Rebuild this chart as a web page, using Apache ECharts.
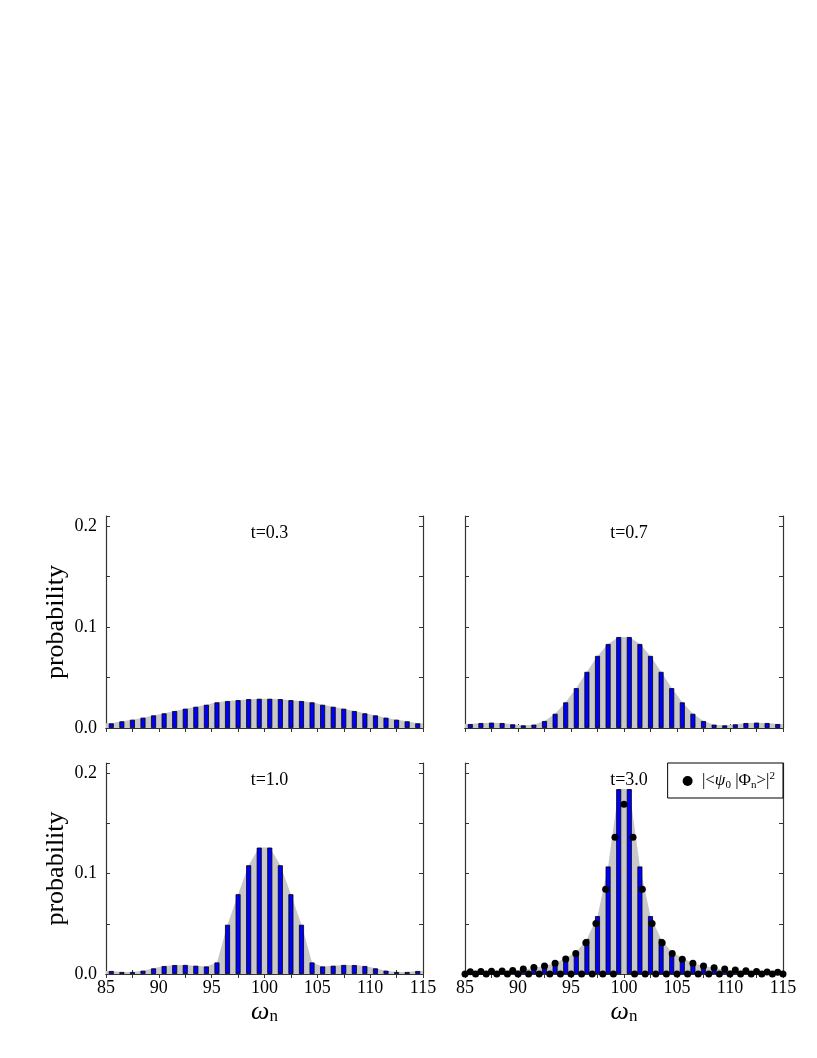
<!DOCTYPE html>
<html>
<head>
<meta charset="utf-8">
<script src="https://cdn.jsdelivr.net/npm/echarts@6/dist/echarts.min.js"></script>
<style>
  html, body { margin: 0; padding: 0; background: #fff; }
  #chart { width: 817px; height: 1058px; }
</style>
</head>
<body>
<div id="chart"></div>
<script>
// bar positions (omega_n) and probabilities for each time
const barX = [85.5, 86.5, 87.5, 88.5, 89.5, 90.5, 91.5, 92.5, 93.5, 94.5, 95.5, 96.5, 97.5, 98.5, 99.5,
  100.5, 101.5, 102.5, 103.5, 104.5, 105.5, 106.5, 107.5, 108.5, 109.5, 110.5, 111.5, 112.5, 113.5, 114.5]

const probT03 = [0.0046, 0.0066, 0.0082, 0.0102, 0.0125, 0.0145, 0.0168, 0.0191, 0.0210, 0.0230, 0.0254, 0.0267, 0.0276, 0.0286, 0.0289,
  0.0289, 0.0286, 0.0276, 0.0267, 0.0254, 0.0230, 0.0210, 0.0191, 0.0168, 0.0145, 0.0125, 0.0102, 0.0082, 0.0066, 0.0046]
const probT07 = [0.0039, 0.0049, 0.0053, 0.0049, 0.0036, 0.0026, 0.0033, 0.0069, 0.0141, 0.0254, 0.0395, 0.0556, 0.0714, 0.0832, 0.0901,
  0.0901, 0.0832, 0.0714, 0.0556, 0.0395, 0.0254, 0.0141, 0.0069, 0.0033, 0.0026, 0.0036, 0.0049, 0.0053, 0.0049, 0.0039]
const probT10 = [0.0030, 0.0020, 0.0020, 0.0033, 0.0056, 0.0079, 0.0089, 0.0090, 0.0082, 0.0075, 0.0115, 0.0490, 0.0794, 0.1082, 0.1258,
  0.1258, 0.1082, 0.0794, 0.0490, 0.0115, 0.0075, 0.0082, 0.0090, 0.0089, 0.0079, 0.0056, 0.0033, 0.0020, 0.0020, 0.0030]
const probT30 = [0.0017, 0.0020, 0.0025, 0.0030, 0.0035, 0.0045, 0.0060, 0.0079, 0.0106, 0.0160, 0.0218, 0.0348, 0.0576, 0.1070, 0.1840,
  0.1840, 0.1070, 0.0576, 0.0348, 0.0218, 0.0160, 0.0106, 0.0079, 0.0060, 0.0045, 0.0035, 0.0030, 0.0025, 0.0020, 0.0017]

// overlap |<psi0|Phi_n>|^2 at t=3.0 (dots): states with non-zero overlap
const dotX = [85.5, 86.5, 87.5, 88.5, 89.5, 90.5, 91.5, 92.5, 93.5, 94.5, 95.45, 96.4, 97.35, 98.27, 99.15,
  100,
  100.85, 101.73, 102.65, 103.6, 104.55, 105.5, 106.5, 107.5, 108.5, 109.5, 110.5, 111.5, 112.5, 113.5, 114.5]
const dotY = [0.0023, 0.0026, 0.0027, 0.0030, 0.0036, 0.0050, 0.0064, 0.0079, 0.0106, 0.0150, 0.0205, 0.0311, 0.0503, 0.0844, 0.1360,
  0.1690,
  0.1360, 0.0844, 0.0503, 0.0311, 0.0205, 0.0146, 0.0106, 0.0079, 0.0063, 0.0050, 0.0040, 0.0033, 0.0026, 0.0020, 0.0017]
// states with zero overlap
const zeroX = [85, 86, 87, 88, 89, 90, 91, 92, 93, 94, 95, 96, 97, 98, 99, 101, 102, 103, 104, 105, 106, 107, 108, 109, 110,
  111, 112, 113, 114, 115]

const titles = ['t=0.3', 't=0.7', 't=1.0', 't=3.0']
const panels = [probT03, probT07, probT10, probT30]

const chart = echarts.init(document.getElementById('chart'))
const FONT = 'Liberation Serif'

const grids = [
  { left: 106, top: 516, width: 317, height: 212 },
  { left: 465, top: 516, width: 318, height: 212 },
  { left: 106, top: 763, width: 317, height: 211 },
  { left: 465, top: 763, width: 318, height: 211 },
]

const axisLine = { show: true, lineStyle: { color: '#333', width: 1.2 } }
const tick = { show: true, inside: true, length: 4, lineStyle: { color: '#333' } }

const xAxes = []
const yAxes = []
grids.forEach((g, i) => {
  const bottomRow = i >= 2
  const leftCol = i % 2 === 0
  xAxes.push({
    type: 'value', gridIndex: i, min: 85, max: 115, interval: 2.5,
    axisLine, axisTick: tick, splitLine: { show: false },
    axisLabel: {
      show: bottomRow, color: '#000', fontFamily: FONT, fontSize: 18, margin: 5,
      formatter: v => (v % 5 === 0 ? String(v) : '')
    },
    name: bottomRow ? '{w|ω}{n|n}' : '',
    nameLocation: 'middle', nameGap: 16,
    nameTextStyle: {
      rich: {
        w: { fontFamily: FONT, fontStyle: 'italic', fontSize: 26, color: '#000', lineHeight: 26 },
        n: { fontFamily: FONT, fontSize: 17, color: '#000', verticalAlign: 'bottom', lineHeight: 26, padding: [10, 0, 0, 0] }
      }
    }
  })
  xAxes.push({
    type: 'value', gridIndex: i, position: 'top', min: 85, max: 115, interval: 2.5,
    axisLine, axisTick: tick, splitLine: { show: false }, axisLabel: { show: false }
  })
  yAxes.push({
    type: 'value', gridIndex: i, min: 0, max: 0.21, interval: 0.05,
    axisLine, axisTick: tick, splitLine: { show: false },
    axisLabel: {
      show: leftCol, color: '#000', fontFamily: FONT, fontSize: 18, margin: 9,
      formatter: v => (Math.abs(v * 10 - Math.round(v * 10)) < 1e-6 ? v.toFixed(1) : '')
    },
    name: leftCol ? 'probability' : '',
    nameLocation: 'middle', nameGap: 37, nameRotate: 90,
    nameTextStyle: { fontFamily: FONT, fontSize: 26, color: '#000' }
  })
  yAxes.push({
    type: 'value', gridIndex: i, position: 'right', min: 0, max: 0.21, interval: 0.05,
    axisLine, axisTick: tick, splitLine: { show: false }, axisLabel: { show: false }
  })
})

const series = []
panels.forEach((vals, i) => {
  const pts = barX.map((x, k) => [x, vals[k]])
  const area = [[85, vals[0]]].concat(pts, [[115, vals[vals.length - 1]]])
  series.push({
    type: 'line', xAxisIndex: i * 2, yAxisIndex: i * 2, data: area,
    symbol: 'none', lineStyle: { width: 0 }, areaStyle: { color: '#c8c8c8', opacity: 1 },
    silent: true, z: 1
  })
  series.push({
    type: 'bar', xAxisIndex: i * 2, yAxisIndex: i * 2, data: pts, barWidth: 5,
    itemStyle: { color: '#0000ff', borderColor: '#000', borderWidth: 0.8 }, z: 2
  })
})
series.push({
  name: 'overlap', type: 'scatter', xAxisIndex: 6, yAxisIndex: 6,
  data: dotX.map((x, k) => [x, dotY[k]]), symbolSize: 7,
  itemStyle: { color: '#000', opacity: 1 }, z: 3, clip: false
})
series.push({
  name: 'zero', type: 'scatter', xAxisIndex: 6, yAxisIndex: 6,
  data: zeroX.map(x => [x, 0]), symbolSize: 7,
  itemStyle: { color: '#000', opacity: 1 }, z: 3, clip: false
})

chart.setOption({
  animation: false,
  backgroundColor: '#fff',
  title: titles.map((t, i) => ({
    text: t,
    left: grids[i].left + grids[i].width / 2,
    top: grids[i].top + 3,
    textAlign: 'center',
    textStyle: { fontFamily: FONT, fontSize: 18, fontWeight: 'normal', color: '#000' }
  })),
  legend: {
    data: ['overlap'],
    right: 34, top: 763,
    backgroundColor: '#fff',
    borderColor: '#000', borderWidth: 1,
    padding: [8, 8, 7, 15],
    itemWidth: 10, itemHeight: 10, itemGap: 10,
    icon: 'circle',
    formatter: () => '{t| |<}{i|ψ}{s|0}{t| |Φ}{s|n}{t|>|}{p|2}',
    textStyle: {
      color: '#000',
      rich: {
        t: { fontFamily: FONT, fontSize: 17, color: '#000', lineHeight: 20 },
        i: { fontFamily: FONT, fontSize: 17, fontStyle: 'italic', color: '#000', lineHeight: 20 },
        s: { fontFamily: FONT, fontSize: 11, color: '#000', verticalAlign: 'bottom', lineHeight: 20, padding: [6, 0, 0, 0] },
        p: { fontFamily: FONT, fontSize: 11, color: '#000', verticalAlign: 'top', lineHeight: 20, padding: [0, 0, 8, 0] }
      }
    }
  },
  grid: grids,
  xAxis: xAxes,
  yAxis: yAxes,
  series
})
</script>
</body>
</html>
